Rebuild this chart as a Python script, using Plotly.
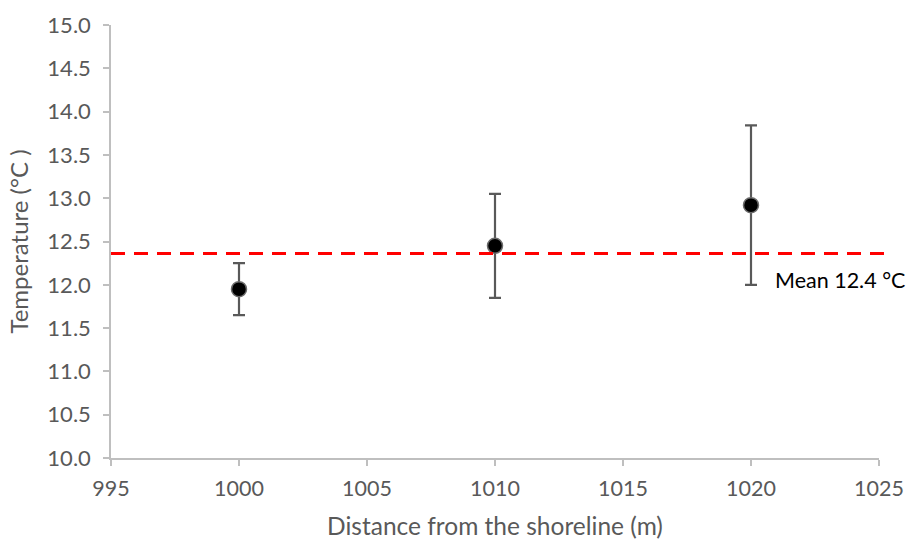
import plotly.graph_objects as go

# Sampling distances and measured temperatures
distance_m = [1000, 1010, 1020]
temperature_c = [11.95, 12.45, 12.92]
temperature_err = [0.30, 0.60, 0.92]

# Overall mean temperature
mean_temp = 12.36

x_ticks = [995, 1000, 1005, 1010, 1015, 1020, 1025]
y_ticks = [10.0, 10.5, 11.0, 11.5, 12.0, 12.5, 13.0, 13.5, 14.0, 14.5, 15.0]

FONT = "Lato"
AXIS_GREY = "#BFBFBF"
TEXT_GREY = "#595959"

fig = go.Figure()

fig.add_trace(go.Scatter(
    x=distance_m,
    y=temperature_c,
    mode="markers",
    marker=dict(size=15, color="black", line=dict(color="#6b6b6b", width=1.5)),
    error_y=dict(type="data", array=temperature_err, visible=True,
                 color=TEXT_GREY, thickness=2.2, width=6),
    showlegend=False,
))

# Dashed mean line across the plot
fig.add_shape(type="line", xref="x domain", yref="y",
              x0=0, x1=1.01, y0=mean_temp, y1=mean_temp,
              line=dict(color="#FF0000", width=3, dash="14px,9px"))

fig.add_annotation(
    xref="x domain", yref="y", x=0.862, y=mean_temp,
    yshift=-26, xanchor="left", yanchor="middle",
    text=f"Mean {mean_temp:.1f} °C", showarrow=False,
    font=dict(family=FONT, size=21.5, color="black"),
)

fig.update_xaxes(
    range=[995, 1025], tickvals=x_ticks, ticktext=[str(v) for v in x_ticks],
    showline=True, linecolor=AXIS_GREY, linewidth=1.5,
    ticks="outside", ticklen=6, tickcolor=AXIS_GREY, tickwidth=1.5,
    showgrid=False, zeroline=False,
    tickfont=dict(family=FONT, size=21.5, color=TEXT_GREY),
    ticklabelstandoff=4,
    title=dict(text="Distance from the shoreline (m)", standoff=20,
               font=dict(family=FONT, size=24.5, color=TEXT_GREY)),
)
fig.update_yaxes(
    range=[10, 15], tickvals=y_ticks, ticktext=[f"{v:.1f}" for v in y_ticks],
    showline=True, linecolor=AXIS_GREY, linewidth=1.5,
    ticks="outside", ticklen=6, tickcolor=AXIS_GREY, tickwidth=1.5,
    showgrid=False, zeroline=False,
    tickfont=dict(family=FONT, size=22, color=TEXT_GREY),
    ticklabelstandoff=8,
    title=dict(text="Temperature (°C )", standoff=12,
               font=dict(family=FONT, size=24, color=TEXT_GREY)),
)

fig.update_layout(
    width=907, height=540,
    margin=dict(l=111, r=28, t=25, b=82, autoexpand=False),
    paper_bgcolor="white", plot_bgcolor="white",
)

fig.write_html("out.html")
